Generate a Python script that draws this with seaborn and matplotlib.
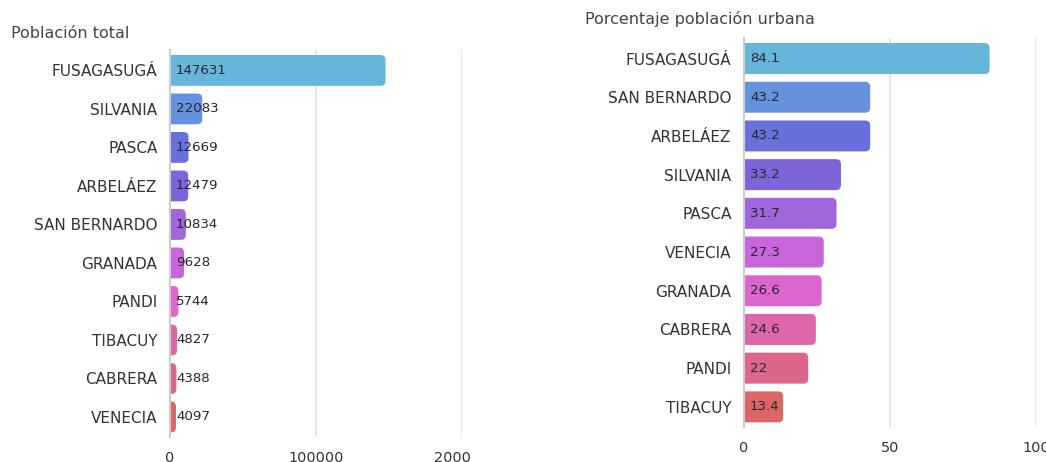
import matplotlib
matplotlib.use("Agg")
import matplotlib.pyplot as plt
import seaborn as sns
import pandas as pd
from matplotlib.patches import FancyBboxPatch
from matplotlib.transforms import Bbox, TransformedBbox

sns.set_style("white")
plt.rcParams['font.family'] = ['DejaVu Sans']

# ================================
# Data
# ================================
pob_names = ["FUSAGASUGÁ", "SILVANIA", "PASCA", "ARBELÁEZ", "SAN BERNARDO",
             "GRANADA", "PANDI", "TIBACUY", "CABRERA", "VENECIA"]
pob_vals = [147631, 22083, 12669, 12479, 10834, 9628, 5744, 4827, 4388, 4097]

urb_names = ["FUSAGASUGÁ", "SAN BERNARDO", "ARBELÁEZ", "SILVANIA", "PASCA",
             "VENECIA", "GRANADA", "CABRERA", "PANDI", "TIBACUY"]
urb_vals = [84.1, 43.2, 43.2, 33.2, 31.7, 27.3, 26.6, 24.6, 22, 13.4]

pob_labels = ["147631", "22083", "12669", "12479", "10834",
              "9628", "5744", "4827", "4388", "4097"]
urb_labels = ["84.1", "43.2", "43.2", "33.2", "31.7",
              "27.3", "26.6", "24.6", "22", "13.4"]

palette = ["#66b6dc", "#6692dd", "#6870db", "#7f63d9", "#a066da",
           "#c666da", "#dc66cd", "#dc66a8", "#dc6689", "#dc6666"]

fig = plt.figure(figsize=(10.46, 4.62), dpi=100)
W, H = 1046, 462


def px_axes(left, top, right, bottom):
    return fig.add_axes([left / W, 1 - bottom / H, (right - left) / W, (bottom - top) / H])


def draw_panel(ax, names, vals, labels, xmax, ticks, title, title_xy, clip_right=None):
    df = pd.DataFrame({"name": names, "val": vals})
    sns.barplot(data=df, x="val", y="name", hue="name", palette=palette,
                legend=False, orient="h", width=0.8, ax=ax, saturation=1)
    ax.set_xlim(0, xmax)
    ax.set_ylim(9.52, -0.53)
    ax.set_xticks(ticks)
    ax.set_xticklabels([f"{t:g}" if t < 1000 else f"{int(t)}" for t in ticks])
    ax.set_xlabel("")
    ax.set_ylabel("")

    # rounded bars
    fig.canvas.draw()
    bb = ax.get_window_extent()
    xpp = xmax / bb.width
    ypp = (9.52 + 0.53) / bb.height
    r = 5 * xpp
    for p in list(ax.patches):
        x, y, w, h = p.get_x(), p.get_y(), p.get_width(), p.get_height()
        fc = p.get_facecolor()
        p.remove()
        ax.add_patch(FancyBboxPatch((x - r, y), w + r, h,
                                    boxstyle=f"round,pad=0,rounding_size={r}",
                                    mutation_aspect=ypp / xpp,
                                    facecolor=fc, edgecolor="none", zorder=2))

    for i, lab in enumerate(labels):
        ax.text(6 * xpp, i, lab, ha="left", va="center", fontsize=9.6,
                color="#262633", zorder=3)

    ax.grid(axis="x", color="#e2e2e2", linewidth=1.2, zorder=0)
    ax.set_axisbelow(True)
    for s in ["top", "right", "bottom"]:
        ax.spines[s].set_visible(False)
    ax.spines["left"].set_color("#cccccc")
    ax.spines["left"].set_linewidth(1.5)
    ax.tick_params(axis="y", length=0, pad=9, labelsize=11, labelcolor="#333333")
    ax.tick_params(axis="x", length=0, pad=10, labelsize=10.4, labelcolor="#333333")
    fig.text(title_xy[0] / W, 1 - title_xy[1] / H, title, fontsize=11.5,
             color="#444444", ha="left", va="center")

    if clip_right is not None:
        clip = TransformedBbox(Bbox([[0, 0], [clip_right / W, 1]]), fig.transFigure)
        for lbl in ax.get_xticklabels():
            lbl.set_clip_on(True)
            lbl.set_clip_box(clip)


ax1 = px_axes(170, 50, 462, 437)
draw_panel(ax1, pob_names, pob_vals, pob_labels, 200000, [0, 100000, 200000],
           "Población total", (11, 34), clip_right=470)

ax2 = px_axes(744, 38, 1036, 427)
draw_panel(ax2, urb_names, urb_vals, urb_labels, 100, [0, 50, 100],
           "Porcentaje población urbana", (585, 19))

fig.savefig("out.png", dpi=100)
